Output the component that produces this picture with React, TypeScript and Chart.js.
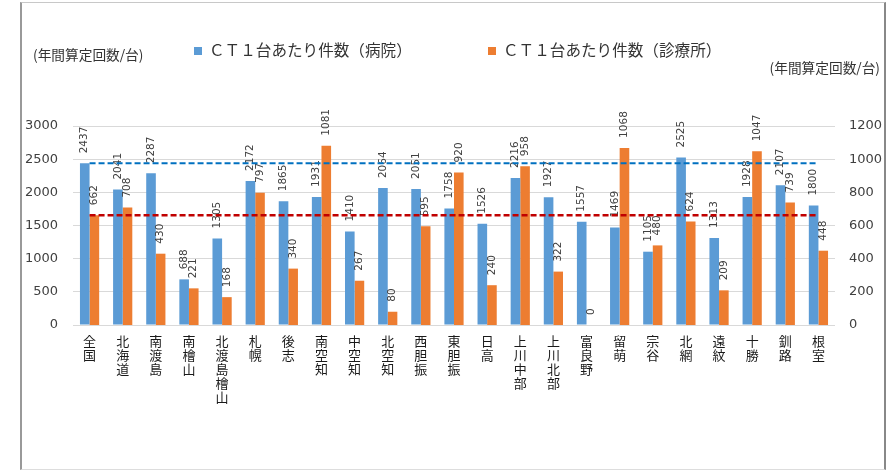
import React, { useEffect, useRef } from "react";
import { Chart, registerables } from "chart.js";

Chart.register(...registerables);

const categories = [
  "全国", "北海道", "南渡島", "南檜山", "北渡島檜山", "札幌", "後志", "南空知", "中空知", "北空知",
  "西胆振", "東胆振", "日高", "上川中部", "上川北部", "富良野", "留萌", "宗谷", "北網", "遠紋",
  "十勝", "釧路", "根室",
];
const hospitalValues = [
  2437, 2041, 2287, 688, 1305, 2172, 1865, 1931, 1410, 2064, 2051, 1758, 1526, 2216, 1927, 1557,
  1469, 1105, 2525, 1313, 1928, 2107, 1800,
];
const clinicValues = [
  662, 708, 430, 221, 168, 797, 340, 1081, 267, 80, 595, 920, 240, 958, 322, 0, 1068, 480, 624,
  209, 1047, 739, 448,
];
const leftTicks = [0, 500, 1000, 1500, 2000, 2500, 3000];
const rightTicks = [0, 200, 400, 600, 800, 1000, 1200];
const hospitalLabel = "ＣＴ１台あたり件数（病院）";
const clinicLabel = "ＣＴ１台あたり件数（診療所）";
const axisTitle = "(年間算定回数/台)";

const BLUE = "#5B9BD5";
const ORANGE = "#ED7D31";
const JP = "'Noto Sans CJK JP', 'Noto Sans', sans-serif";
const NUM = "'DejaVu Sans', sans-serif";

const valueLabelPlugin = {
  id: "valueLabels",
  afterDatasetsDraw(chart: any) {
    const ctx = chart.ctx;
    ctx.save();
    ctx.font = `10.5px ${NUM}`;
    ctx.fillStyle = "#404040";
    ctx.textAlign = "left";
    ctx.textBaseline = "middle";
    chart.data.datasets.forEach((ds: any, di: number) => {
      const meta = chart.getDatasetMeta(di);
      meta.data.forEach((el: any, i: number) => {
        const v = ds.data[i];
        ctx.save();
        ctx.translate(el.x, el.y - 10);
        ctx.rotate(-Math.PI / 2);
        ctx.fillText(String(v), 0, 0);
        ctx.restore();
      });
    });
    ctx.restore();
  },
};

const refLinePlugin = {
  id: "refLines",
  afterDatasetsDraw(chart: any) {
    const ctx = chart.ctx;
    const x = chart.scales.x;
    const x0 = x.getPixelForValue(0);
    const x1 = x.getPixelForValue(categories.length - 1);
    const yb = chart.scales.y.getPixelForValue(hospitalValues[0]);
    const yr = chart.scales.y1.getPixelForValue(clinicValues[0]);
    ctx.save();
    ctx.lineWidth = 2;
    ctx.strokeStyle = "#0070C0";
    ctx.setLineDash([6, 3]);
    ctx.beginPath();
    ctx.moveTo(x0, yb);
    ctx.lineTo(x1, yb);
    ctx.stroke();
    ctx.lineWidth = 2.5;
    ctx.strokeStyle = "#C00000";
    ctx.setLineDash([6, 3]);
    ctx.beginPath();
    ctx.moveTo(x0, yr);
    ctx.lineTo(x1, yr);
    ctx.stroke();
    ctx.restore();
  },
};

export default function App() {
  const ref = useRef<HTMLCanvasElement | null>(null);
  useEffect(() => {
    if (!ref.current) return;
    const chart = new Chart(ref.current, {
      type: "bar",
      data: {
        labels: categories.map((c) => c.split("")),
        datasets: [
          {
            label: hospitalLabel,
            data: hospitalValues,
            backgroundColor: BLUE,
            yAxisID: "y",
            barPercentage: 1,
            categoryPercentage: 0.58,
          },
          {
            label: clinicLabel,
            data: clinicValues,
            backgroundColor: ORANGE,
            yAxisID: "y1",
            barPercentage: 1,
            categoryPercentage: 0.58,
          },
        ],
      },
      options: {
        animation: false,
        responsive: false,
        maintainAspectRatio: false,
        layout: { padding: { top: 126, left: 0, right: 0, bottom: 0 } },
        plugins: { legend: { display: false }, tooltip: { enabled: false } },
        scales: {
          x: {
            grid: { display: false, drawTicks: false },
            border: { display: false },
            ticks: {
              maxRotation: 0,
              minRotation: 0,
              autoSkip: false,
              padding: 9,
              color: "#1a1a1a",
              font: { family: JP, size: 13, lineHeight: "14px" },
            },
            afterFit(s: any) {
              s.height = 146;
            },
          },
          y: {
            position: "left",
            min: 0,
            max: 3000,
            afterBuildTicks(s: any) {
              s.ticks = leftTicks.map((v) => ({ value: v }));
            },
            grid: { color: "#D9D9D9", drawTicks: false },
            border: { display: false },
            ticks: {
              padding: 15,
              color: "#404040",
              font: { family: NUM, size: 13 },
              callback: (v: any) => String(v),
            },
            afterFit(s: any) {
              s.width = 73;
            },
          },
          y1: {
            position: "right",
            min: 0,
            max: 1200,
            afterBuildTicks(s: any) {
              s.ticks = rightTicks.map((v) => ({ value: v }));
            },
            grid: { display: false, drawTicks: false },
            border: { display: false },
            ticks: {
              padding: 14,
              color: "#404040",
              font: { family: NUM, size: 13 },
              callback: (v: any) => String(v),
            },
            afterFit(s: any) {
              s.width = 54;
            },
          },
        },
      },
      plugins: [valueLabelPlugin, refLinePlugin],
    });
    return () => chart.destroy();
  }, []);

  const txt: React.CSSProperties = {
    position: "absolute",
    fontFamily: JP,
    color: "#333",
    whiteSpace: "nowrap",
    lineHeight: 1,
  };

  return (
    <div style={{ position: "absolute", left: 0, top: 0, width: 889, height: 471, background: "#fff" }}>
      <div
        style={{
          position: "absolute",
          left: 20,
          top: 2,
          width: 862,
          height: 466,
          borderLeft: "2px solid #999",
          borderTop: "1px solid #c8c8c8",
          borderRight: "2px solid #888",
          borderBottom: "1px solid #ddd",
        }}
      />
      <canvas ref={ref} width={889} height={471} style={{ position: "absolute", left: 0, top: 0 }} />
      <div style={{ ...txt, left: 33, top: 48, fontSize: 13.7 }}>{axisTitle}</div>
      <div style={{ ...txt, right: 9, top: 61, fontSize: 13.7 }}>{axisTitle}</div>
      <div style={{ position: "absolute", left: 194, top: 47, width: 8, height: 8, background: BLUE }} />
      <div style={{ ...txt, left: 209, top: 42, fontSize: 15.6 }}>{hospitalLabel}</div>
      <div style={{ position: "absolute", left: 488, top: 47, width: 8, height: 8, background: ORANGE }} />
      <div style={{ ...txt, left: 503, top: 42, fontSize: 15.6 }}>{clinicLabel}</div>
    </div>
  );
}
